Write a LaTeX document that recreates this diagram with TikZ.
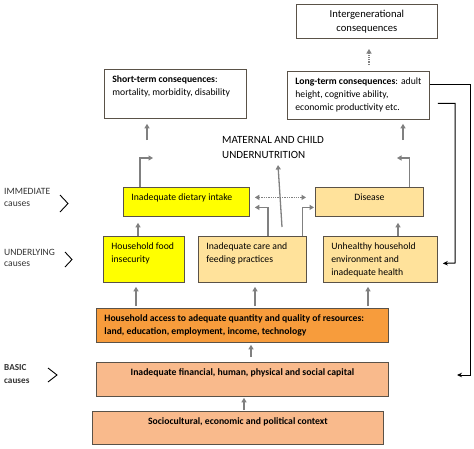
\documentclass[tikz,border=0pt]{standalone}
\usepackage{fontspec}
\setmainfont{Carlito}
\usetikzlibrary{arrows.meta}
\definecolor{yel}{HTML}{FFFF00}
\definecolor{lightor}{HTML}{FFE29B}
\definecolor{resor}{HTML}{F79C3C}
\definecolor{salmon}{HTML}{F9BA8C}
\definecolor{arrgray}{HTML}{808080}
\definecolor{edge}{HTML}{5A5248}
% text block of a box: width, height, contents
\newcommand{\boxtxt}[3]{\parbox[c][#2pt][t]{#1pt}{\raggedright #3}}
\tikzset{
  box/.style={draw=edge,line width=0.8pt,anchor=north west,inner xsep=8pt,inner ysep=6pt,
    font=\fontsize{9.7}{13}\selectfont},
  up/.style={draw=arrgray,line width=1.3pt,-{Triangle[length=4.5pt,width=5pt]}},
  back/.style={draw=black,line width=1pt,-{Stealth[length=5pt,width=4.5pt]}},
  side/.style={font=\fontsize{9.6}{11.5}\selectfont,text=black!80,align=left,anchor=west,inner sep=0},
  chev/.style={line width=0.9pt,line join=miter},
}
\begin{document}
\begin{tikzpicture}[x=1pt,y=-1pt]
\useasboundingbox (0,0) rectangle (474,448);
% consequences
\node[box] (intergen) at (296,4) {\boxtxt{125}{22}{\centering\fontsize{10.6}{14}\selectfont Intergenerational\\consequences}};
\node[box] (shortterm) at (104,69) {\boxtxt{126}{37}{\textbf{Short-term consequences}:\\mortality, morbidity, disability}};
\node[box] (longterm) at (287,71) {\boxtxt{126}{36}{\textbf{Long-term consequences}: adult\\height, cognitive ability,\\economic productivity etc.}};
\node[anchor=west,align=left,inner sep=0,font=\fontsize{11}{15}\selectfont] (mcu) at (222,147) {MATERNAL AND CHILD\\UNDERNUTRITION};
% immediate causes
\node[box,fill=yel] (dietary) at (123,187) {\boxtxt{110}{17}{Inadequate dietary intake}};
\node[box,fill=lightor] (disease) at (315,187) {\boxtxt{92}{17}{\centering Disease}};
% underlying causes
\node[box,fill=yel] (foodins) at (103,236) {\boxtxt{65}{34}{Household food\\insecurity}};
\node[box,fill=lightor] (care) at (198,236) {\boxtxt{92}{34}{Inadequate care and\\feeding practices}};
\node[box,fill=lightor] (unhealthy) at (323,236) {\boxtxt{98}{34}{Unhealthy household\\environment and\\inadequate health}};
% basic causes
\node[box,fill=resor] (resources) at (96,308) {\boxtxt{276}{22}{\bfseries Household access to adequate quantity and quality of resources:\\land, education, employment, income, technology}};
\node[box,fill=salmon] (capital) at (96,362) {\boxtxt{276}{22}{\centering\bfseries Inadequate financial, human, physical and social capital}};
\node[box,fill=salmon] (context) at (92,411) {\boxtxt{275}{21}{\centering\bfseries Sociocultural, economic and political context}};
% level labels
\node[side] (immlbl) at (4,197.5) {IMMEDIATE\\causes};
\node[side] (undlbl) at (4,258) {UNDERLYING\\causes};
\node[side,font=\bfseries\fontsize{9.2}{13}\selectfont] (baslbl) at (4,374.5) {BASIC\\causes};
\draw[chev] (60,195) -- (68,203.5) -- (60,212);
\draw[chev] (65,252) -- (72,259.5) -- (65,267);
\draw[chev] (48,368) -- (57,375) -- (48,382);
% free ends
\coordinate (stfoot) at (147,140);
\coordinate (ltfoot) at (403,140);
\coordinate (igend) at (369,49);
\coordinate (dietout) at (153,158);
\coordinate (disout) at (397,158);
\coordinate (cbase) at (282,227);
\coordinate (ctip) at (278,165);
\coordinate (rail1) at (470,375);
\coordinate (capin) at (457,375);
\coordinate (rail2) at (455,263);
% arrows
\draw[up,shorten >=5pt] (stfoot) -- (stfoot |- shortterm.south);
\draw[up,shorten >=4pt] (ltfoot) -- (ltfoot |- longterm.south);
\draw[up,densely dotted,shorten <=6pt] (igend |- longterm.north) -- (igend);
\draw[up] ([xshift=17pt]dietary.north west) |- (dietout);
\draw[up] ([xshift=-14pt]disease.north east) |- (disout);
\draw[up,{Triangle[length=4.5pt,width=5pt]}-{Triangle[length=4.5pt,width=5pt]},densely dotted,shorten <=5pt,shorten >=9pt]
  ([yshift=4.5pt]dietary.east) -- ([yshift=4.5pt]disease.west);
\draw[up,shorten >=5pt] ([xshift=70pt]care.north west) |- ([yshift=-5.5pt]dietary.east);
\draw[up,shorten >=1pt] ([xshift=-4pt]care.north east) |- ([yshift=-5.5pt]disease.west);
\draw[up] (cbase) -- (ctip);
\draw[up,shorten >=6pt] ([xshift=35pt]foodins.north west) -- ([xshift=15pt]dietary.south west);
\draw[up,shorten >=6pt] ([xshift=75pt]unhealthy.north west) -- ([xshift=83pt]disease.south west);
\draw[up,shorten <=2pt,shorten >=4pt] ([xshift=40pt]resources.north west) -- ([xshift=33pt]foodins.south west);
\draw[up,shorten <=2pt,shorten >=4pt] ([xshift=159pt]resources.north west) -- ([xshift=57pt]care.south west);
\draw[up,shorten <=2pt,shorten >=4pt] ([xshift=272pt]resources.north west) -- ([xshift=45pt]unhealthy.south west);
\draw[up,shorten <=5pt,shorten >=2pt] ([xshift=155pt]capital.north west) -- ([xshift=155pt]resources.south west);
\draw[up,shorten <=1pt,shorten >=1pt] ([xshift=152pt]context.north west) -- ([xshift=148pt]capital.south west);
% feedback lines
\draw[back] ([yshift=11pt]longterm.east) -| (rail1) -- (capin);
\draw[back] ([xshift=8pt,yshift=-8pt]longterm.east) -| (rail2) -- ([xshift=5pt,yshift=-4pt]unhealthy.east);
\end{tikzpicture}
\end{document}
